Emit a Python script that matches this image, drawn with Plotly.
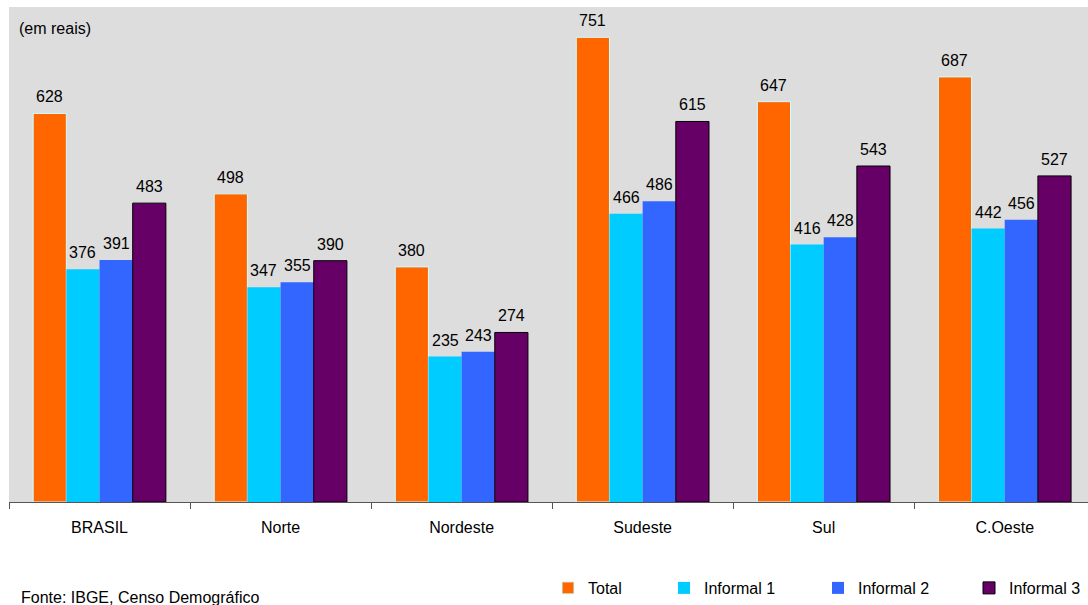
import plotly.graph_objects as go

categories = ["BRASIL", "Norte", "Nordeste", "Sudeste", "Sul", "C.Oeste"]
series_names = ["Total", "Informal 1", "Informal 2", "Informal 3"]
total = [628, 498, 380, 751, 647, 687]
informal1 = [376, 347, 235, 466, 416, 442]
informal2 = [391, 355, 243, 486, 428, 456]
informal3 = [483, 390, 274, 615, 543, 527]
series_values = [total, informal1, informal2, informal3]

colors = ["#FF6600", "#00CCFF", "#3366FF", "#660066"]
line_colors = ["#CCFFFF", "#00CCFF", "#3366FF", "#000000"]
line_widths = [1, 0, 0, 1]

W, H = 1088, 605
ML, MR, MT, MB = 9, 0, 7, 103
BARGAP = 0.267
XRANGE = [-0.5, 5.46]
FONT = "Liberation Sans, Arial, sans-serif"
FS = 16

fig = go.Figure()
legend_ids = ["legend", "legend2", "legend3", "legend4"]
for j, (name, vals) in enumerate(zip(series_names, series_values)):
    fig.add_trace(go.Bar(
        x=categories, y=vals, name=name,
        marker=dict(color=colors[j], line=dict(color=line_colors[j], width=line_widths[j])),
        legend=legend_ids[j], hoverinfo="x+y+name",
    ))

plot_w = W - ML - MR
cat_px = plot_w / (XRANGE[1] - XRANGE[0])
bar_px = cat_px * (1 - BARGAP) / len(series_names)
annotations = []
for j, vals in enumerate(series_values):
    for c, v in zip(categories, vals):
        annotations.append(dict(
            x=c, y=v, xref="x", yref="y", text=str(v), showarrow=False,
            xanchor="center", yanchor="bottom",
            xshift=(j - (len(series_names) - 1) / 2) * bar_px, yshift=6,
            font=dict(size=FS, color="#000000", family=FONT),
        ))

def px_to_paper(xp, yp):
    return (xp - ML) / plot_w, 1 - (yp - MT) / (H - MT - MB)

ax, ay = px_to_paper(17, 29)
annotations.append(dict(text="(em reais)", x=ax, y=ay, xref="paper", yref="paper",
                        xanchor="left", yanchor="middle", showarrow=False,
                        font=dict(size=FS, color="#000000", family=FONT)))
fx, fy = px_to_paper(19, 597)
annotations.append(dict(text="Fonte: IBGE, Censo Demográfico", x=fx, y=fy, xref="paper", yref="paper",
                        xanchor="left", yanchor="middle", showarrow=False,
                        font=dict(size=FS, color="#000000", family=FONT)))

legend_px = [548, 664, 818, 969]
legends = {}
for lid, lx in zip(legend_ids, legend_px):
    px_, py_ = px_to_paper(lx, 588)
    legends[lid] = dict(x=px_, y=py_, xanchor="left", yanchor="middle",
                        orientation="h", bgcolor="rgba(0,0,0,0)",
                        font=dict(size=FS, color="#000000", family=FONT))

fig.update_layout(
    width=W, height=H,
    margin=dict(l=ML, r=MR, t=MT, b=MB),
    paper_bgcolor="#FFFFFF", plot_bgcolor="#DDDDDD",
    barmode="group", bargap=BARGAP, bargroupgap=0,
    font=dict(family=FONT, size=FS, color="#000000"),
    annotations=annotations,
    showlegend=True,
    **legends,
)
fig.update_xaxes(range=XRANGE, showline=True, linecolor="#555555", linewidth=1,
                 ticks="outside", tickson="boundaries", ticklen=6, tickcolor="#555555",
                 tickfont=dict(size=FS, family=FONT, color="#000000"), ticklabelstandoff=11,
                 showgrid=False)
fig.update_yaxes(range=[0, 800], showgrid=False, showticklabels=False, zeroline=False,
                 showline=False, ticks="")

fig.write_html("out.html")
